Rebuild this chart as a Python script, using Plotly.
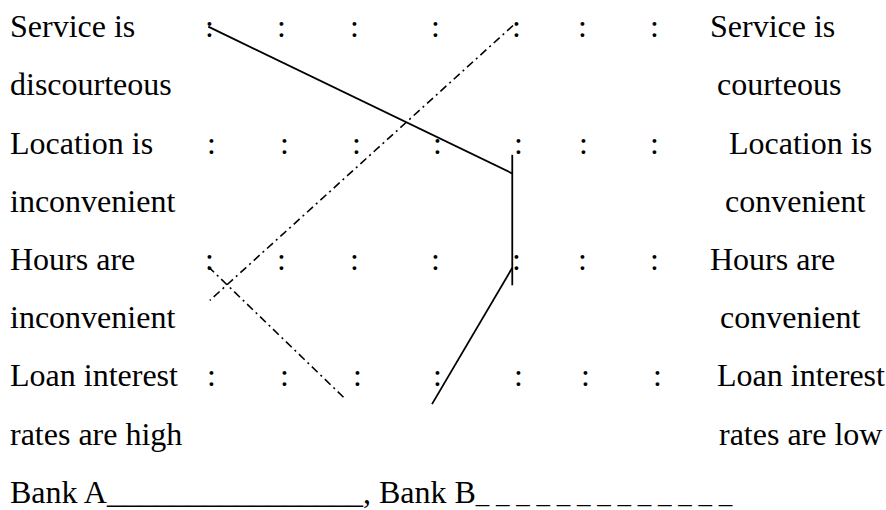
import plotly.graph_objects as go

# --- data -----------------------------------------------------------------
left_labels = ["Service is", "discourteous", "Location is", "inconvenient",
               "Hours are", "inconvenient", "Loan interest", "rates are high"]
right_labels = ["Service is", "courteous", "Location is", "convenient",
                "Hours are", "convenient", "Loan interest", "rates are low"]
items = [0, 1, 2, 3]  # one per scale item (row of colons)

# colon positions on each item row (scale units, point 1 .. point 7)
colon_pos = [
    [1.00, 1.98, 2.96, 4.05, 5.14, 6.02, 7.00],
    [1.03, 2.01, 2.99, 4.08, 5.17, 6.04, 7.00],
    [1.00, 1.98, 2.96, 4.05, 5.14, 6.03, 7.00],
    [1.04, 2.02, 3.00, 4.08, 5.16, 6.06, 7.03],
]

# hand drawn profiles (scale position, item row); None breaks a stroke
bank_a_x = [0.99, 5.08, None, 5.08, 5.08, None, 5.08, 4.00]
bank_a_y = [-0.02, 1.24, None, 1.08, 2.20, None, 2.05, 3.22]
bank_b_x = [5.09, 1.01, None, 0.99, 2.84]
bank_b_y = [-0.03, 2.33, None, 2.04, 3.18]

key_text = ("Bank A" + "_" * 16 + ", Bank B"
            + '<span style="font-size:27px">' + " ".join(["_"] * 13) + "</span>")

# --- figure ---------------------------------------------------------------
FONT = dict(family="Liberation Serif, Times New Roman, serif", size=32, color="black")

fig = go.Figure()

fig.add_trace(go.Scatter(
    x=bank_a_x, y=bank_a_y, mode="lines", name="Bank A",
    line=dict(color="black", width=1.8),
    connectgaps=False, hoverinfo="skip"
))
fig.add_trace(go.Scatter(
    x=bank_b_x, y=bank_b_y, mode="lines", name="Bank B",
    line=dict(color="black", width=1.6, dash="8px,4px,2px,4px"),
    connectgaps=False, hoverinfo="skip"
))

annotations = []
for row, xs in zip(items, colon_pos):
    for x in xs:
        annotations.append(dict(x=x, y=row, xref="x", yref="y", text=":",
                                showarrow=False, xanchor="center", yanchor="middle",
                                yshift=3, font=FONT))

right_label_px = [708, 715, 727, 723, 708, 718, 715, 717]
for i, (lt, rt) in enumerate(zip(left_labels, right_labels)):
    annotations.append(dict(x=8 / 886, y=i / 2, xref="paper", yref="y", text=lt,
                            showarrow=False, xanchor="left", yanchor="middle",
                            yshift=3, font=FONT))
    annotations.append(dict(x=right_label_px[i] / 886, y=i / 2, xref="paper", yref="y",
                            text=rt, showarrow=False, xanchor="left", yanchor="middle",
                            yshift=3, font=FONT))

annotations.append(dict(x=8 / 886, y=4.0, xref="paper", yref="y", text=key_text,
                        showarrow=False, xanchor="left", yanchor="middle",
                        yshift=3, font=FONT))

fig.update_layout(
    width=886, height=510,
    margin=dict(l=0, r=0, t=0, b=0),
    paper_bgcolor="white", plot_bgcolor="white",
    showlegend=False,
    xaxis=dict(range=[-1.812, 10.108], visible=False, fixedrange=True),
    yaxis=dict(range=[4.129, -0.249], visible=False, fixedrange=True),
    annotations=annotations,
)

# drop the browser's default page margin so the figure sits at the corner
fig.write_html("out.html", config={"displayModeBar": False},
               post_script="document.body.style.margin='0px';")
